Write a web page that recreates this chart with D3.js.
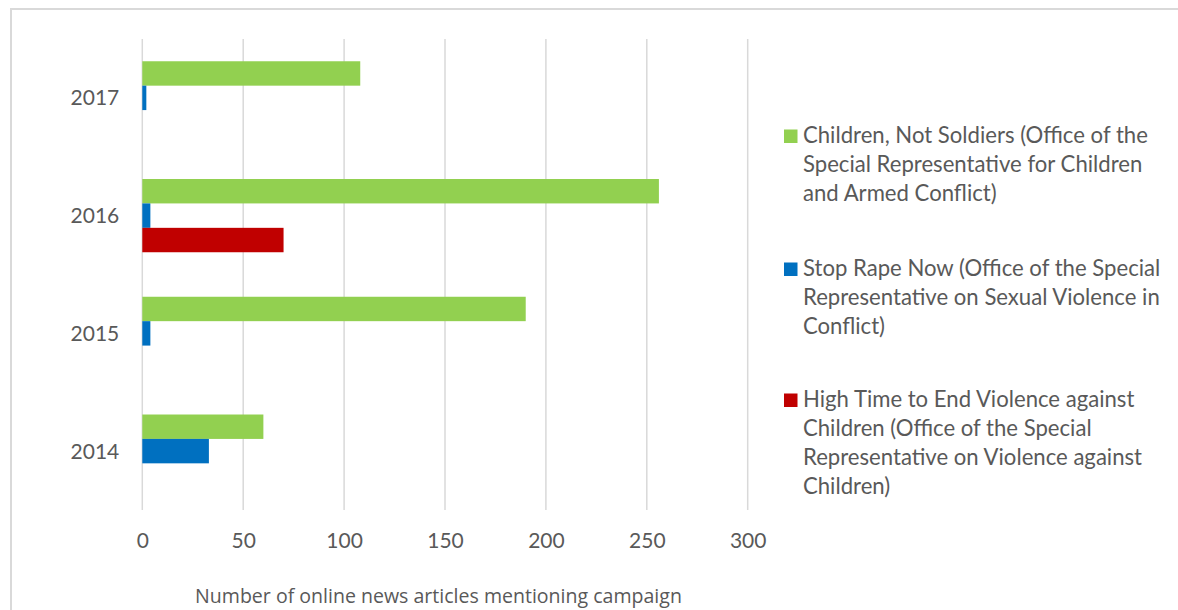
<!DOCTYPE html>
<html>
<head>
<meta charset="utf-8">
<script src="https://cdn.jsdelivr.net/npm/d3@7"></script>
<style>
  html, body { margin: 0; padding: 0; background: #fff; }
  svg { display: block; }
  text { font-family: Lato, "Open Sans", sans-serif; fill: #595959; }
</style>
</head>
<body>
<svg id="chart" width="1178" height="610"></svg>
<script>
// ---- Data ----
const years = ["2017", "2016", "2015", "2014"];
const seriesNames = [
  "Children, Not Soldiers (Office of the Special Representative for Children and Armed Conflict)",
  "Stop Rape Now (Office of the Special Representative on Sexual Violence in Conflict)",
  "High Time to End Violence against Children (Office of the Special Representative on Violence against Children)"
];
const legendLines = [
  ["Children, Not Soldiers (Office of the", "Special Representative for Children", "and Armed Conflict)"],
  ["Stop Rape Now (Office of the Special", "Representative on Sexual Violence in", "Conflict)"],
  ["High Time to End Violence against", "Children (Office of the Special", "Representative on Violence against", "Children)"]
];
const childrenNotSoldiers = [108, 256, 190, 60];   // 2017, 2016, 2015, 2014
const stopRapeNow        = [2, 4, 4, 33];
const highTime           = [0, 70, 0, 0];
const seriesColors = ["#92D050", "#0070C0", "#C00000"];
const xTicks = [0, 50, 100, 150, 200, 250, 300];
const xTitle = "Number of online news articles mentioning campaign";

const seriesValues = [childrenNotSoldiers, stopRapeNow, highTime];

// ---- Layout ----
const svg = d3.select("#chart");
const plot = { left: 142.3, right: 747.7, top: 39, bottom: 510 };

// fit a text element's font size so that it spans a target width
function fitWidth(sel, target, base) {
  sel.attr("font-size", base);
  const w = sel.node().getComputedTextLength();
  const fs = base * target / w;
  sel.attr("font-size", fs);
  return fs;
}

// chart frame
svg.append("rect")
  .attr("x", 11).attr("y", 9).attr("width", 1200).attr("height", 700)
  .attr("fill", "none").attr("stroke", "#d9d9d9").attr("stroke-width", 2);

const x = d3.scaleLinear().domain([0, 300]).range([plot.left, plot.right]);
const y = d3.scaleBand().domain(years).range([plot.top, plot.bottom])
  .paddingInner(0.378).paddingOuter(0.189);
const ySub = d3.scaleBand().domain(d3.range(seriesNames.length)).range([0, y.bandwidth()]);

// gridlines
svg.append("g").selectAll("line").data(xTicks).join("line")
  .attr("x1", d => x(d)).attr("x2", d => x(d))
  .attr("y1", plot.top).attr("y2", plot.bottom)
  .attr("stroke", "#d9d9d9").attr("stroke-width", 1.5);

// bars
const rows = [];
years.forEach((yr, i) => {
  seriesValues.forEach((vals, s) => rows.push({ year: yr, s, v: vals[i] }));
});
svg.append("g").selectAll("rect").data(rows.filter(d => d.v > 0)).join("rect")
  .attr("x", x(0))
  .attr("y", d => y(d.year) + ySub(d.s))
  .attr("width", d => x(d.v) - x(0))
  .attr("height", ySub.bandwidth())
  .attr("fill", d => seriesColors[d.s]);

// y axis labels
const yAxis = d3.axisLeft(y).tickSize(0).tickPadding(0);
const gy = svg.append("g").attr("transform", `translate(${plot.left - 23},0)`).call(yAxis);
gy.select(".domain").remove();
gy.selectAll("text").attr("font-size", 21).attr("fill", "#595959")
  .attr("font-family", "Lato, 'Open Sans', sans-serif").attr("dy", "0.36em");

// x axis labels
const xAxis = d3.axisBottom(x).tickValues(xTicks).tickSize(0).tickPadding(0);
const gx = svg.append("g").attr("transform", `translate(0,${plot.bottom + 38})`).call(xAxis);
gx.select(".domain").remove();
gx.selectAll("text").attr("font-size", 21).attr("fill", "#595959")
  .attr("font-family", "Lato, 'Open Sans', sans-serif").attr("dy", 0);

// x axis title
const title = svg.append("text").attr("x", 438.5).attr("y", 603).attr("text-anchor", "middle")
  .style("font-family", "'Open Sans', sans-serif").text(xTitle);
fitWidth(title, 487, 18);

// legend
const legendTops = [143, 276, 407];
const lg = svg.append("g");
let legendFs = 21;
{
  const probe = svg.append("text").attr("x", 0).attr("y", -50).text(legendLines[0][0]);
  legendFs = fitWidth(probe, 345, 21);
  probe.remove();
}
legendLines.forEach((lines, i) => {
  const g = lg.append("g");
  g.append("rect").attr("x", 784).attr("y", legendTops[i] - 13.5)
    .attr("width", 13.5).attr("height", 13.5).attr("fill", seriesColors[i]);
  g.append("text").attr("x", 803).attr("y", legendTops[i]).attr("font-size", legendFs)
    .selectAll("tspan").data(lines).join("tspan")
    .attr("x", 803).attr("dy", (d, k) => k === 0 ? 0 : 29).text(d => d);
});
</script>
</body>
</html>
